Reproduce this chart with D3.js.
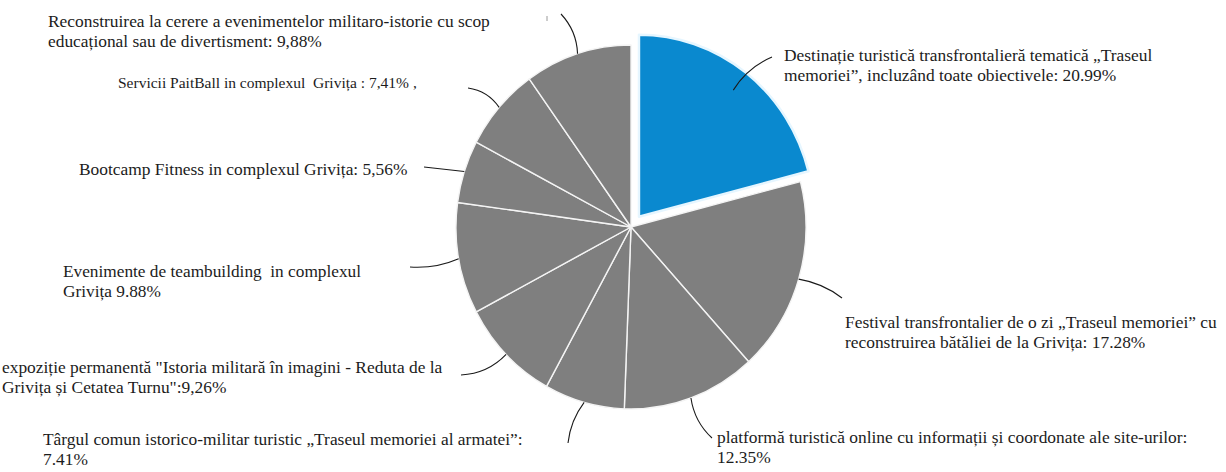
<!DOCTYPE html>
<html>
<head>
<meta charset="utf-8">
<script src="https://cdn.jsdelivr.net/npm/d3@7"></script>
<style>
  html, body { margin: 0; padding: 0; background: #fff; }
  svg { display: block; }
</style>
</head>
<body>
<svg id="chart" width="1226" height="472"></svg>
<script>
// Shares of respondents per proposed tourism service (percent), clockwise from 12 o'clock
const categories = [
  "Destinație turistică transfrontalieră tematică",
  "Festival transfrontalier de o zi",
  "Platformă turistică online",
  "Târgul comun istorico-militar turistic",
  "Expoziție permanentă",
  "Evenimente de teambuilding",
  "Bootcamp Fitness",
  "Servicii PaitBall",
  "Reconstruirea la cerere a evenimentelor"
];
const shares = [20.99, 17.28, 12.35, 7.41, 9.26, 9.88, 5.56, 7.41, 9.88];

// Label text, one entry per line; {v} is replaced by the share value
const labelLines = [
  ["Destinație turistică transfrontalieră tematică „Traseul", "memoriei”, incluzând toate obiectivele: {v}%"],
  ["Festival transfrontalier de o zi „Traseul memoriei” cu", "reconstruirea bătăliei de la Grivița: {v}%"],
  ["platformă turistică online cu informații și coordonate ale site-urilor:", "{v}%"],
  ["Târgul comun istorico-militar turistic „Traseul memoriei al armatei”:", "{v}%"],
  ["expoziție permanentă \"Istoria militară în imagini - Reduta de la", "Grivița și Cetatea Turnu\":{v}%"],
  ["Evenimente de teambuilding  in complexul", "Grivița {v}%"],
  ["Bootcamp Fitness in complexul Grivița: {v}%"],
  ["Servicii PaitBall in complexul  Grivița : {v}% ,"],
  ["Reconstruirea la cerere a evenimentelor militaro-istorie cu scop", "educațional sau de divertisment: {v}%"]
];
const decimalMarks = [".", ".", ".", ".", ",", ".", ",", ",", ","];
const highlighted = [true, false, false, false, false, false, false, false, false];

// Layout: label origin (left x, first baseline), font size, and leader start, bend, attach radius
const labelPos = [
  [784, 61], [845, 328], [717, 443], [43, 445], [2, 373],
  [63, 277], [79, 175], [118, 88], [48, 27]
];
const labelSize = [17.4, 17.4, 17.4, 17.4, 17.4, 17.3, 17.4, 15.5, 17.4];
const leaderStart = [
  [772, 57], [842, 298], [712, 438], [568, 443], [461, 375],
  [410, 267], [424, 167], [468, 88], [561, 14]
];
const leaderBend = [4, 3, -4, -3, 5, 3, 0, -4, -4];
const leaderRadius = [0.88, 1, 1, 1, 1, 1, 1, 1, 1];

const W = 1226, H = 472;
const cx = 631, cy = 227, rx = 175, ry = 182, explode = 13;
const lineHeight = 19.5;
const fontFamily = "'Liberation Serif', 'Times New Roman', serif";

const svg = d3.select("#chart");

const pie = d3.pie().sort(null).value(d => d)(shares);
const arc = d3.arc().innerRadius(0).outerRadius(rx);

function offsetOf(d, i) {
  if (!highlighted[i]) return [0, 0];
  const m = (d.startAngle + d.endAngle) / 2;
  return [explode * Math.sin(m), -explode * Math.cos(m)];
}

const pieG = svg.append("g")
  .attr("transform", `translate(${cx},${cy}) scale(1,${ry / rx})`);

pieG.selectAll("path.slice")
  .data(pie)
  .join("path")
  .attr("class", "slice")
  .attr("transform", (d, i) => {
    const [ox, oy] = offsetOf(d, i);
    return `translate(${ox},${oy * rx / ry})`;
  })
  .attr("d", arc)
  .attr("fill", (d, i) => highlighted[i] ? "#0a89cf" : "#7f7f7f")
  .attr("stroke", (d, i) => highlighted[i] ? "#e6f6ff" : "#f4f4f4")
  .attr("stroke-width", (d, i) => highlighted[i] ? 2.5 : 1.4)
  .attr("stroke-linejoin", "round")
  .attr("vector-effect", "non-scaling-stroke");

// Leader lines from each label to its slice
const leaders = svg.append("g");
pie.forEach((d, i) => {
  const m = (d.startAngle + d.endAngle) / 2;
  const [ox, oy] = offsetOf(d, i);
  const k = leaderRadius[i];
  const ex = cx + ox + rx * k * Math.sin(m);
  const ey = cy + oy - ry * k * Math.cos(m);
  const [sx, sy] = leaderStart[i];
  const mx = (sx + ex) / 2, my = (sy + ey) / 2;
  const len = Math.hypot(ex - sx, ey - sy) || 1;
  const nx = -(ey - sy) / len, ny = (ex - sx) / len;
  const p = d3.path();
  p.moveTo(sx, sy);
  p.quadraticCurveTo(mx + nx * leaderBend[i] * 2, my + ny * leaderBend[i] * 2, ex, ey);
  leaders.append("path")
    .attr("d", p.toString())
    .attr("fill", "none")
    .attr("stroke", "#1a1a1a")
    .attr("stroke-width", 1.1);
});

// small stray tick above the last slice
svg.append("line")
  .attr("x1", 547).attr("y1", 16).attr("x2", 547).attr("y2", 21)
  .attr("stroke", "#9a9a9a").attr("stroke-width", 1);

// Labels
const labels = svg.append("g");
labelLines.forEach((lines, i) => {
  const v = shares[i].toFixed(2).replace(".", decimalMarks[i]);
  const t = labels.append("text")
    .attr("x", labelPos[i][0])
    .attr("y", labelPos[i][1])
    .attr("fill", "#1c1c1c")
    .style("font-family", fontFamily)
    .style("font-size", labelSize[i] + "px")
    .style("white-space", "pre");
  lines.forEach((ln, j) => {
    t.append("tspan")
      .attr("x", labelPos[i][0])
      .attr("dy", j === 0 ? 0 : lineHeight)
      .text(ln.replace("{v}", v));
  });
});
</script>
</body>
</html>
